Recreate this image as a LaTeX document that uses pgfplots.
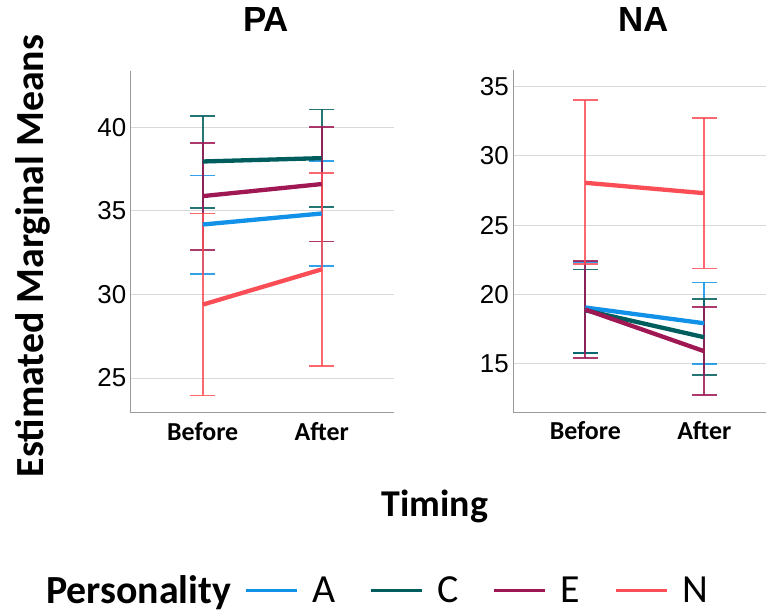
\documentclass[border=0pt]{standalone}
\usepackage{pgfplots}
\usepackage{pgfplotstable}
\pgfplotsset{compat=1.18}
\usepackage{fontspec}
\setmainfont{Liberation Sans}
\newfontfamily\carlito{Carlito}

\definecolor{colA}{HTML}{1192E8}
\definecolor{colC}{HTML}{005D5D}
\definecolor{colE}{HTML}{9F1853}
\definecolor{colN}{HTML}{FA4D56}
\definecolor{axisgray}{HTML}{9A9A9A}
\definecolor{gridgray}{HTML}{DADADA}

% x: 0 = Before, 1 = After ; lo/hi = 95% CI
\pgfplotstableread{
x y lo hi
0 34.18 31.21 37.11
1 34.84 31.69 37.99
}\paA
\pgfplotstableread{
x y lo hi
0 37.95 35.16 40.66
1 38.15 35.22 41.06
}\paC
\pgfplotstableread{
x y lo hi
0 35.88 32.65 39.07
1 36.60 33.17 40.00
}\paE
\pgfplotstableread{
x y lo hi
0 29.39 23.96 34.84
1 31.50 25.70 37.27
}\paN
\pgfplotstableread{
x y lo hi
0 19.05 15.77 22.35
1 17.91 14.97 20.86
}\naA
\pgfplotstableread{
x y lo hi
0 18.85 15.77 21.80
1 16.90 14.15 19.66
}\naC
\pgfplotstableread{
x y lo hi
0 18.90 15.41 22.40
1 15.89 12.70 19.08
}\naE
\pgfplotstableread{
x y lo hi
0 28.06 22.18 34.04
1 27.31 21.87 32.76
}\naN

\pgfplotsset{
  myax/.style={
    scale only axis, width=263bp, height=342bp,
    xmin=-0.605, xmax=1.605,
    xtick={0,1}, xticklabels={Before,After},
    axis x line*=bottom, axis y line*=left,
    axis line style={-, draw=axisgray, line width=1bp},
    ymajorgrids, major grid style={draw=gridgray, line width=1bp},
    major tick length=0pt,
    xticklabel style={font=\carlito\bfseries\fontsize{26}{26}\selectfont, yshift=-6bp},
    yticklabel style={font=\fontsize{26}{26}\selectfont, xshift=-1bp},
    /pgf/number format/assume math mode=true,
    title style={font=\bfseries\fontsize{35}{35}\selectfont, at={(0.5,1)}, anchor=base, yshift=33bp},
    clip=false,
  },
  err/.style={draw=none, forget plot,
    error bars/.cd, y dir=both, y explicit,
    error bar style={draw=#1, solid, line width=1.8bp, opacity=0.85},
    error mark options={draw=#1, solid, line width=1.8bp, mark size=12.5bp, rotate=90, opacity=0.85}},
  mean/.style={draw=#1, line width=4.3bp},
}

\newcommand{\errplot}[2]{\addplot[err=#1] table[x=x, y=y, y error plus expr=\thisrow{hi}-\thisrow{y}, y error minus expr=\thisrow{y}-\thisrow{lo}] {#2};}

\begin{document}
\begin{tikzpicture}
\useasboundingbox (0,0) rectangle (766bp,-612bp);

\begin{axis}[myax, at={(130.7bp,-412.5bp)}, anchor=south west,
  ymin=22.94, ymax=43.39, ytick={25,30,35,40}, title={PA},
  title style={xshift=4bp},
  legend style={at={(axis description cs:-0.375,-0.52)}, anchor=west,
    legend columns=-1, draw=none, fill=none, inner sep=0pt,
    font=\carlito\fontsize{40}{40}\selectfont,
    nodes={inner sep=0pt},
    /tikz/every odd column/.append style={column sep=14bp},
    /tikz/every even column/.append style={column sep=34bp}},
  legend cell align=left,
  legend image code/.code={\draw[#1, line width=3bp] (0bp,0bp) -- (51bp,0bp);},
]
\errplot{colA}{\paA}
\errplot{colC}{\paC}
\errplot{colE}{\paE}
\errplot{colN}{\paN}
\addlegendimage{empty legend}
\addlegendentry{\makebox[164bp][l]{\bfseries Personality}}
\addplot[mean=colA] table[x=x,y=y] {\paA};
\addlegendentry{A}
\addplot[mean=colC] table[x=x,y=y] {\paC};
\addlegendentry{C}
\addplot[mean=colE] table[x=x,y=y] {\paE};
\addlegendentry{E}
\addplot[mean=colN] table[x=x,y=y] {\paN};
\addlegendentry{N}
\end{axis}

\begin{axis}[myax, at={(513.3bp,-412bp)}, anchor=south west,
  ymin=11.5, ymax=36.21, ytick={15,20,25,30,35}, title={NA},
  title style={xshift=-1.5bp},
]
\errplot{colA}{\naA}
\errplot{colC}{\naC}
\errplot{colE}{\naE}
\errplot{colN}{\naN}
\addplot[mean=colA] table[x=x,y=y] {\naA};
\addplot[mean=colC] table[x=x,y=y] {\naC};
\addplot[mean=colE] table[x=x,y=y] {\naE};
\addplot[mean=colN] table[x=x,y=y] {\naN};
\end{axis}

\node[rotate=90, anchor=base, font=\carlito\bfseries\fontsize{40}{40}\selectfont, inner sep=0pt]
  at (43bp,-256bp) {Estimated Marginal Means};
\node[anchor=base, font=\carlito\bfseries\fontsize{38}{38}\selectfont, inner sep=0pt]
  at (435bp,-516bp) {Timing};
\end{tikzpicture}
\end{document}
